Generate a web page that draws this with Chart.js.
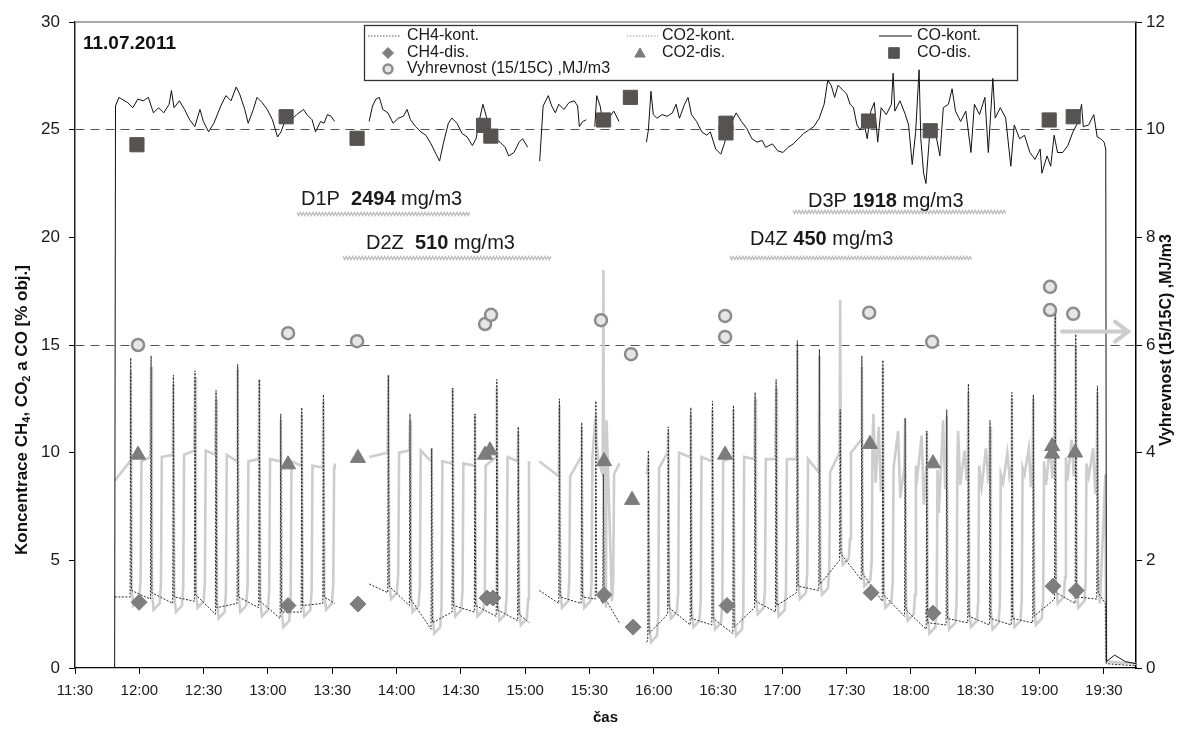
<!DOCTYPE html>
<html lang="cs">
<head>
<meta charset="utf-8">
<title>11.07.2011</title>
<script src="https://cdn.jsdelivr.net/npm/chart.js@4.4.1/dist/chart.umd.min.js"></script>
<style>
  html, body { margin: 0; padding: 0; background: #fff; }
  #box { position: relative; width: 1179px; height: 734px; }
</style>
</head>
<body>
<div id="box"><canvas id="graf"></canvas></div>
<script>
// time is in minutes after midnight (690 = 11:30)
const tickTimes = [690, 720, 750, 780, 810, 840, 870, 900, 930, 960, 990, 1020, 1050, 1080, 1110, 1140, 1170];
const xMin = 690, xMax = 1185;

// CO-kont. [min, % obj.], null = no data
const coKont = [
  [690, 0], [708.5, 0], [708.9, 26.1], [710.5, 26.5], [714.5, 26.26], [717.0, 26.02], [719.3, 26.42], [721.8, 26.34],
  [724.2, 26.5], [726.6, 25.78], [729.0, 26.02], [731.4, 25.78], [733.9, 26.18], [735.0, 26.82], [736.2, 26.02],
  [738.7, 26.34], [741.1, 25.94], [743.5, 25.46], [745.9, 25.14], [748.3, 25.94], [749.9, 25.38], [752.3, 24.9],
  [754.8, 25.3], [758.0, 26.1], [760.4, 26.58], [762.8, 26.34], [765.2, 26.98], [766.8, 26.66], [769.2, 25.94],
  [770.8, 25.3], [773.2, 25.94], [774.9, 26.5], [777.3, 26.26], [779.7, 25.94], [782.1, 25.46], [784.5, 24.66],
  [786.1, 24.9], [788.5, 25.54], [791.0, 25.46], [793.4, 25.7], [796.6, 25.94], [798.2, 25.7], [800.6, 25.46],
  [802.2, 24.9], [804.6, 25.38], [806.2, 25.3], [807.8, 25.7], [809.5, 25.62], [811.1, 25.38], [811.2, null],
  [827.2, 25.38], [828.8, 26.1], [830.4, 26.42], [832.0, 26.5], [833.6, 25.94], [836.0, 25.78], [838.4, 25.3],
  [840.9, 25.54], [843.2, 25.62], [844.9, 25.94], [846.5, 25.46], [848.9, 25.14], [851.3, 24.9], [853.7, 24.74],
  [856.1, 24.34], [858.5, 23.86], [860.1, 23.54], [861.8, 24.34], [864.2, 25.3], [865.8, 25.54], [868.2, 25.3],
  [870.6, 24.82], [873.0, 24.66], [875.4, 24.26], [877.1, 24.58], [878.7, 25.46], [880.3, 26.18], [881.9, 25.62],
  [883.5, 24.98], [885.9, 24.58], [888.3, 24.42], [890.7, 24.18], [892.3, 23.78], [894.8, 23.94], [897.2, 24.42],
  [898.8, 24.58], [901.2, 24.18], [901.3, null],
  [906.8, 23.54], [908.4, 26.1], [910.8, 26.58], [912.4, 26.1], [914.1, 25.78], [915.7, 26.18], [918.1, 25.94],
  [920.5, 26.26], [922.9, 26.34], [924.5, 26.1], [925.3, 25.14], [926.9, 25.38], [928.5, 25.46], [928.6, null],
  [932.5, 25.14], [933.4, 26.58], [935.0, 26.1], [936.6, 25.14], [939.0, 25.54], [941.4, 25.86], [943.8, 25.38], [943.9, null],
  [956.6, 24.42], [957.5, 24.98], [958.7, 26.78], [959.8, 25.7], [961.5, 25.53], [963.9, 25.7], [966.3, 25.62],
  [968.7, 25.78], [970.4, 26.18], [972.0, 25.53], [974.4, 26.18], [976.0, 26.5], [977.6, 25.7], [980.0, 25.38],
  [982.4, 24.9], [984.8, 24.74], [986.4, 24.9], [988.9, 24.1], [991.3, 23.86], [992.9, 24.34], [995.3, 25.14],
  [998.5, 25.78], [1000.9, 25.38], [1003.4, 25.06], [1005.8, 24.58], [1008.2, 24.42], [1010.6, 24.5], [1012.2, 24.18],
  [1015.4, 24.34], [1017.8, 24.02], [1020.3, 23.94], [1022.7, 24.18], [1025.1, 24.34], [1027.5, 24.58], [1029.9, 24.82],
  [1032.3, 24.98], [1034.7, 25.14], [1037.2, 25.53], [1039.5, 26.18], [1041.2, 27.3], [1042.8, 27.06], [1044.4, 26.5],
  [1046.0, 27.06], [1048.4, 26.82], [1050.0, 26.66], [1051.6, 26.18], [1053.2, 26.02], [1054.8, 25.22], [1056.4, 24.98],
  [1058.0, 25.38], [1059.6, 24.58], [1061.3, 25.86], [1062.9, 26.26], [1064.5, 24.42], [1066.1, 26.02], [1068.5, 25.7],
  [1070.9, 26.18], [1071.7, 27.62], [1072.5, 25.86], [1074.9, 26.34], [1077.4, 25.7], [1078.9, 25.22], [1080.6, 23.38],
  [1082.2, 24.9], [1083.8, 27.78], [1084.6, 24.58], [1085.9, 22.98], [1087.0, 22.5], [1088.7, 24.74], [1091.1, 25.06],
  [1093.5, 23.78], [1095.1, 26.02], [1097.5, 26.18], [1099.2, 26.9], [1100.8, 25.86], [1103.2, 25.38], [1105.6, 25.86],
  [1108.0, 23.94], [1109.6, 26.18], [1112.0, 25.7], [1114.5, 26.5], [1116.1, 23.94], [1118.2, 27.38], [1119.3, 25.54],
  [1121.7, 26.02], [1124.2, 25.54], [1126.6, 23.3], [1128.2, 25.22], [1130.7, 24.58], [1133.0, 24.74], [1135.5, 23.94],
  [1137.9, 23.62], [1140.3, 24.1], [1141.1, 22.98], [1143.5, 23.78], [1145.2, 23.3], [1146.8, 24.74], [1148.4, 23.94],
  [1150.8, 23.94], [1153.2, 24.26], [1155.6, 24.9], [1158.1, 25.38], [1159.6, 26.18], [1160.4, 25.14], [1162.9, 25.22],
  [1165.3, 25.7], [1166.9, 24.66], [1168.5, 24.58], [1170.1, 24.42], [1170.9, 24.1], [1171.2, 0.3], [1175, 0.6],
  [1180, 0.3], [1185, 0.2]
];

// switching peaks of the continuous analysers
const spikeT = [716.0, 725.5, 735.9, 746.0, 755.8, 765.9, 776.0, 786.0, 795.8, 805.9,
  836.2, 846.3, 856.4, 866.2, 876.6, 886.8, 896.8,
  916.0, 926.4, 933.0, 936.5,
  957.5, 966.8, 977.3, 987.4, 997.2, 1007.3, 1017.1, 1027.0, 1037.3, 1047.0, 1057.1, 1066.9, 1077.3, 1087.4,
  1096.7, 1106.8, 1116.9, 1127.1, 1137.1, 1147.3, 1156.9, 1167.0];
const ch4Peak = [14.4, 14.5, 13.6, 13.8, 12.9, 14.1, 13.4, 11.8, 12.1, 12.7,
  13.6, 11.8, 10.2, 13.0, 11.8, 13.4, 11.2,
  12.5, 11.4, 12.4, 9.0,
  10.1, 11.2, 12.1, 12.4, 12.2, 12.8, 13.4, 15.2, 14.8, 12.0, 14.5, 14.3, 11.6, 11.0, 12.0, 13.2, 11.5, 12.8, 12.7, 16.8, 15.5, 13.1];
const ch4Base = [3.3, 3.2, 3.0, 3.1, 2.5, 3.0, 2.8, 2.3, 2.6, 3.0,
  3.5, 2.9, 1.8, 2.6, 2.6, 2.4, 2.2,
  3.0, 3.0, 3.2, 3.0,
  1.3, 2.5, 2.0, 2.0, 1.6, 2.8, 2.6, 3.5, 3.6, 5.0, 4.1, 3.1, 2.4, 1.8, 2.0, 2.1, 2.0, 2.0, 2.1, 3.2, 3.0, 3.2];
const co2Peak = [13.8, 14.0, 13.2, 13.5, 12.5, 13.9, 13.4, 11.5, 11.8, 12.4,
  13.6, 11.5, 10.2, 13.0, 11.8, 13.0, 11.0,
  12.2, 11.2, 11.8, 18.5,
  9.8, 11.0, 11.8, 12.0, 12.0, 12.5, 13.0, 14.8, 14.5, 17.1, 14.0, 14.0, 11.6, 11.0, 11.7, 12.8, 11.2, 12.5, 12.5, 16.5, 15.0, 12.8];
const co2Base = [9.6, 9.8, 9.9, 10.1, 9.9, 9.6, 9.7, 9.6, 9.4, 9.3,
  10.0, 10.1, 9.6, 9.5, 9.4, 9.8, 9.6,
  8.9, 9.8, 11.5, 9.0,
  9.3, 10.0, 9.8, 9.6, 9.8, 9.7, 9.7, 9.7, 9.1, 10.0, 10.6, 9.3, 9.4, 9.2, 9.6, 9.4, 9.0, 9.3, 9.6, 9.8, 9.5, 9.4];
const co2Low = [2.9, 2.7, 2.6, 2.8, 2.3, 2.6, 2.4, 1.9, 2.4, 2.7,
  3.2, 2.6, 1.6, 2.4, 2.4, 2.2, 2.0,
  2.8, 2.8, 9.6, 2.8,
  1.2, 2.3, 1.9, 1.8, 1.5, 2.5, 2.4, 3.2, 3.4, 4.8, 3.8, 2.8, 2.2, 1.6, 1.8, 1.9, 1.8, 1.9, 2.0, 3.0, 2.8, 3.0];

// recording segments of CH4/CO2
const segStart = [708.6, 827.3, 906.6, 956.7];
const segEnd = [811.2, 902.0, 944.0, 1170.7];
const ch4Start = [3.3, 3.9, 3.6, 1.2];
const ch4End = [3.0, 2.1, 2.1, 3.0];
const co2Start = [8.7, 9.8, 9.6, 9.0];
const co2End = [9.5, 9.5, 9.5, 9.0];
const ch4Tail = [[1171.1, 0.2], [1185, 0.1]];
const co2Tail = [[1171.1, 0.3], [1185, 0.2]];

// unstable CO2 reading 17:33 - 19:30
const co2Noise = [[1062.5, 11.8], [1063.5, 8.6], [1065, 11.2], [1066, 8.2], [1071, 10.2], [1072, 8.8], [1074, 11.0], [1075, 7.9],
  [1082, 11.2], [1083, 8.9], [1085, 10.8], [1086, 7.6], [1092, 10.4], [1093, 7.2], [1095, 11.5], [1096, 8.3],
  [1102, 11.0], [1103, 8.5], [1105, 10.1], [1106, 8.7], [1112, 10.9], [1113, 8.4], [1115, 10.2], [1116, 8.8],
  [1122, 11.3], [1123, 8.6], [1125, 10.0], [1126, 8.9], [1132, 11.0], [1133, 9.0], [1135, 10.2], [1136, 8.4],
  [1142, 10.9], [1143, 8.5], [1145, 10.4], [1146, 8.8], [1152, 11.2], [1153, 8.7], [1155, 10.6], [1156, 8.9],
  [1162, 10.8], [1163, 8.9], [1165, 10.2], [1166, 8.1]];

// discontinuous samples
const coDisT = [718.9, 788.5, 821.6, 880.6, 884.0, 936.6, 949.1, 993.7, 993.7, 1060.2, 1089.0, 1144.5, 1155.7];
const coDis = [24.3, 25.6, 24.6, 25.2, 24.7, 25.45, 26.5, 25.3, 24.85, 25.4, 24.95, 25.45, 25.6];
const co2DisT = [719.4, 789.4, 822.0, 881.3, 883.6, 936.8, 949.9, 993.3, 1060.9, 1090.3, 1145.9, 1145.9, 1156.6];
const co2Dis = [9.9, 9.45, 9.75, 9.9, 10.1, 9.6, 7.8, 9.9, 10.4, 9.5, 10.3, 9.95, 10.0];
const ch4DisT = [719.9, 789.4, 822.0, 882.2, 885.0, 936.8, 950.4, 994.2, 1061.4, 1090.3, 1146.3, 1157.1];
const ch4Dis = [3.05, 2.9, 2.97, 3.25, 3.25, 3.4, 1.9, 2.9, 3.5, 2.55, 3.8, 3.6];
const vyhT = [719.4, 789.4, 821.6, 881.3, 884.1, 935.4, 949.4, 993.3, 993.3, 1060.5, 1089.9, 1144.9, 1144.9, 1155.7];
const vyh = [6.0, 6.22, 6.07, 6.39, 6.56, 6.46, 5.83, 6.54, 6.15, 6.6, 6.06, 7.08, 6.65, 6.58];

const fam = "'Liberation Sans', Arial, sans-serif";

function fmtTime(m) {
  return Math.floor(m / 60) + ':' + String(Math.round(m % 60)).padStart(2, '0');
}

function toXY(arr) {
  return arr.map(p => ({ x: p[0], y: p[1] }));
}

function pairs(t, v) {
  return t.map((x, i) => ({ x: x, y: v[i] }));
}

// builds a kont. trace out of the read segments and peaks
function buildTrace(startVals, endVals, eventPts, tail, extra) {
  let out = [];
  segStart.forEach((s, k) => {
    let pts = [[s, startVals[k]]];
    spikeT.forEach((t, i) => {
      if (t > s && t < segEnd[k]) pts = pts.concat(eventPts(t, i));
    });
    if (extra) pts = pts.concat(extra.filter(p => p[0] > s && p[0] < segEnd[k]));
    pts = pts.filter(p => p[0] < segEnd[k]);
    pts.sort((a, b) => a[0] - b[0]);
    pts.push([segEnd[k], endVals[k]]);
    if (k < segStart.length - 1) pts.push([segEnd[k] + 0.05, null]);
    out = out.concat(pts);
  });
  return toXY(out.concat(tail));
}

const ch4Kont = buildTrace(ch4Start, ch4End, (t, i) => [
  [t - 0.3, ch4Base[i]], [t, ch4Peak[i]], [t + 0.35, ch4Base[i] + 0.3]
], ch4Tail);

const inDip = t => spikeT.some(s => t > s - 0.6 && t < s + 5.3);
const co2Kont = buildTrace(co2Start, co2End, (t, i) => [
  [t - 0.3, co2Base[i]], [t, co2Peak[i]], [t + 0.4, co2Low[i] + 0.8], [t + 1.2, co2Low[i]],
  [t + 4.0, co2Low[i] + 0.3], [t + 4.6, co2Low[i] + 1.2], [t + 5.0, co2Base[i]]
], co2Tail, co2Noise.filter(p => !inDip(p[0])));

// wavy grey underline as on the scanned original
function wavy(c, x1, x2, y) {
  c.beginPath();
  let k = 0;
  for (let x = x1; x <= x2; x += 1.6, k++) c.lineTo(x, y + (k % 2 ? 1.6 : -1.6));
  c.stroke();
}

function note(c, x, y, parts) {
  let cx = x;
  parts.forEach(p => {
    c.font = (p[1] ? 'bold ' : '') + '20px ' + fam;
    c.fillText(p[0], cx, y);
    cx += c.measureText(p[0]).width;
  });
}

const decor = {
  id: 'decor',
  beforeDatasetsDraw(chart) {
    const c = chart.ctx, a = chart.chartArea;
    const ds = chart.data.datasets;
    c.save();
    c.strokeStyle = '#8a8a8a';
    c.lineWidth = 1.5;
    c.beginPath(); c.moveTo(a.left, a.top); c.lineTo(a.right, a.top); c.stroke();

    // legend
    c.fillStyle = '#fff';
    c.fillRect(364, 25, 653, 55);
    c.strokeStyle = '#333';
    c.lineWidth = 1.3;
    c.strokeRect(364.5, 25.5, 653, 55);

    c.lineWidth = 1;
    c.setLineDash([1.5, 1.5]);
    c.strokeStyle = '#555';
    c.beginPath(); c.moveTo(368, 36); c.lineTo(400, 36); c.stroke();
    c.strokeStyle = '#999';
    c.beginPath(); c.moveTo(627, 36); c.lineTo(658, 36); c.stroke();
    c.setLineDash([]);
    c.strokeStyle = '#111';
    c.beginPath(); c.moveTo(879, 36); c.lineTo(912, 36); c.stroke();

    const mark = (d, r, x, y) => {
      c.fillStyle = d.backgroundColor;
      c.strokeStyle = d.borderColor;
      c.lineWidth = d.borderWidth;
      Chart.helpers.drawPoint(c, { pointStyle: d.pointStyle, radius: r, rotation: 0, borderWidth: d.borderWidth }, x, y);
    };
    mark(ds[2], 5.5, 388, 53);
    mark(ds[3], 4.5, 388, 69);
    mark(ds[1], 6, 640, 54);
    mark(ds[0], 7.5, 894, 53);

    c.fillStyle = '#1a1a1a';
    c.font = '16px ' + fam;
    c.textBaseline = 'middle';
    c.fillText('CH4-kont.', 407, 36);
    c.fillText('CH4-dis.', 407, 53);
    c.fillText('Vyhrevnost (15/15C) ,MJ/m3', 407, 69);
    c.fillText('CO2-kont.', 662, 36);
    c.fillText('CO2-dis.', 662, 53);
    c.fillText('CO-kont.', 917, 36);
    c.fillText('CO-dis.', 917, 53);
    c.restore();
  },
  afterDraw(chart) {
    const c = chart.ctx, a = chart.chartArea;
    const xs = chart.scales.x, yr = chart.scales.y2;
    c.save();
    c.fillStyle = '#111';
    c.textBaseline = 'alphabetic';
    c.font = 'bold 19px ' + fam;
    c.fillText('11.07.2011', 83, 49);

    // sample point notes
    c.strokeStyle = '#bdbdbd';
    c.lineWidth = 1.3;
    wavy(c, 297, 470, 214);
    wavy(c, 343, 552, 258);
    wavy(c, 793, 1006, 212);
    wavy(c, 730, 972, 258);
    c.fillStyle = '#1a1a1a';
    note(c, 301, 205, [['D1P  ', false], ['2494', true], [' mg/m3', false]]);
    note(c, 366, 249, [['D2Z  ', false], ['510', true], [' mg/m3', false]]);
    note(c, 808, 207, [['D3P ', false], ['1918', true], [' mg/m3', false]]);
    note(c, 750, 245, [['D4Z ', false], ['450', true], [' mg/m3', false]]);

    // arrow pointing to the right axis
    const ay = yr.getPixelForValue(6.25);
    const ax1 = xs.getPixelForValue(1150.5), ax2 = xs.getPixelForValue(1181.3);
    c.strokeStyle = '#cdcdcd';
    c.lineWidth = 4;
    c.lineCap = 'round';
    c.beginPath(); c.moveTo(ax1, ay); c.lineTo(ax2, ay); c.stroke();
    c.beginPath(); c.moveTo(ax2 - 13, ay - 10); c.lineTo(ax2, ay); c.lineTo(ax2 - 13, ay + 10); c.stroke();

    // axis titles
    c.fillStyle = '#111';
    c.font = 'bold 15px ' + fam;
    c.textAlign = 'center';
    c.fillText('čas', (a.left + a.right) / 2, 722);

    c.save();
    c.translate(1167, 340);
    c.rotate(-Math.PI / 2);
    c.font = 'bold 16px ' + fam;
    c.textBaseline = 'middle';
    c.fillText('Vyhrevnost (15/15C) ,MJ/m3', 0, 0);
    c.restore();

    c.save();
    c.translate(22, 410);
    c.rotate(-Math.PI / 2);
    c.textAlign = 'left';
    c.textBaseline = 'middle';
    const parts = [['Koncentrace CH', 0], ['4', 1], [', CO', 0], ['2', 1], [' a CO [% obj.]', 0]];
    let w = 0;
    parts.forEach(p => { c.font = 'bold ' + (p[1] ? 11 : 17) + 'px ' + fam; w += c.measureText(p[0]).width; });
    let x = -w / 2;
    parts.forEach(p => {
      c.font = 'bold ' + (p[1] ? 11 : 17) + 'px ' + fam;
      c.fillText(p[0], x, p[1] ? 5 : 0);
      x += c.measureText(p[0]).width;
    });
    c.restore();
    c.restore();
  }
};

new Chart(document.getElementById('graf'), {
  type: 'line',
  data: {
    datasets: [
      { label: 'CO-dis.', data: pairs(coDisT, coDis), showLine: false, yAxisID: 'y',
        pointStyle: 'rect', pointRadius: 10, backgroundColor: '#575353', borderColor: '#575353', borderWidth: 1 },
      { label: 'CO2-dis.', data: pairs(co2DisT, co2Dis), showLine: false, yAxisID: 'y',
        pointStyle: 'triangle', pointRadius: 8.7, backgroundColor: '#7c7c7c', borderColor: '#7c7c7c', borderWidth: 1 },
      { label: 'CH4-dis.', data: pairs(ch4DisT, ch4Dis), showLine: false, yAxisID: 'y',
        pointStyle: 'rectRot', pointRadius: 8, backgroundColor: '#7e7e7e', borderColor: '#7e7e7e', borderWidth: 1 },
      { label: 'Vyhrevnost (15/15C) ,MJ/m3', data: pairs(vyhT, vyh), showLine: false, yAxisID: 'y2',
        pointStyle: 'circle', pointRadius: 6, backgroundColor: '#e6e6e6', borderColor: '#8c8c8c', borderWidth: 2.5 },
      { label: 'CO-kont.', data: toXY(coKont), yAxisID: 'y', borderColor: '#111', borderWidth: 1,
        pointRadius: 0, tension: 0, spanGaps: false },
      { label: 'CH4-kont.', data: ch4Kont, yAxisID: 'y', borderColor: '#2a2a2a', borderWidth: 1,
        borderDash: [2, 1.5], pointRadius: 0, tension: 0, spanGaps: false },
      { label: 'CO2-kont.', data: co2Kont, yAxisID: 'y', borderColor: '#cdcdcd', borderWidth: 2.6,
        pointRadius: 0, tension: 0, spanGaps: false }
    ]
  },
  options: {
    responsive: true,
    maintainAspectRatio: false,
    animation: false,
    events: [],
    layout: { padding: { top: 22, left: 0, right: 0, bottom: 0 } },
    plugins: { legend: { display: false }, tooltip: { enabled: false } },
    scales: {
      x: {
        type: 'linear', min: xMin, max: xMax,
        afterBuildTicks: s => { s.ticks = tickTimes.map(v => ({ value: v })); },
        afterFit: s => { s.height = 66; },
        ticks: { callback: v => fmtTime(v), autoSkip: false, maxRotation: 0, padding: 8,
          font: { size: 15, family: fam }, color: '#1a1a1a' },
        grid: { drawOnChartArea: false, tickLength: 6, tickColor: '#000' },
        border: { color: '#000', width: 1.2 }
      },
      y: {
        position: 'left', min: 0, max: 30,
        afterFit: s => { s.width = 75; },
        ticks: { stepSize: 5, padding: 9, font: { size: 17, family: fam }, color: '#1a1a1a' },
        grid: {
          color: ctx => (ctx.tick && (ctx.tick.value === 25 || ctx.tick.value === 15)) ? '#555' : 'rgba(0,0,0,0)',
          lineWidth: 1, tickLength: 6, tickColor: '#000'
        },
        border: { color: '#222', width: 1.5, dash: [9, 6] }
      },
      y2: {
        position: 'right', min: 0, max: 12,
        afterFit: s => { s.width = 43; },
        ticks: { stepSize: 2, padding: 4, font: { size: 17, family: fam }, color: '#1a1a1a' },
        grid: { drawOnChartArea: false, tickLength: 6, tickColor: '#000' },
        border: { color: '#000', width: 1.5 }
      }
    }
  },
  plugins: [decor]
});
</script>
</body>
</html>
